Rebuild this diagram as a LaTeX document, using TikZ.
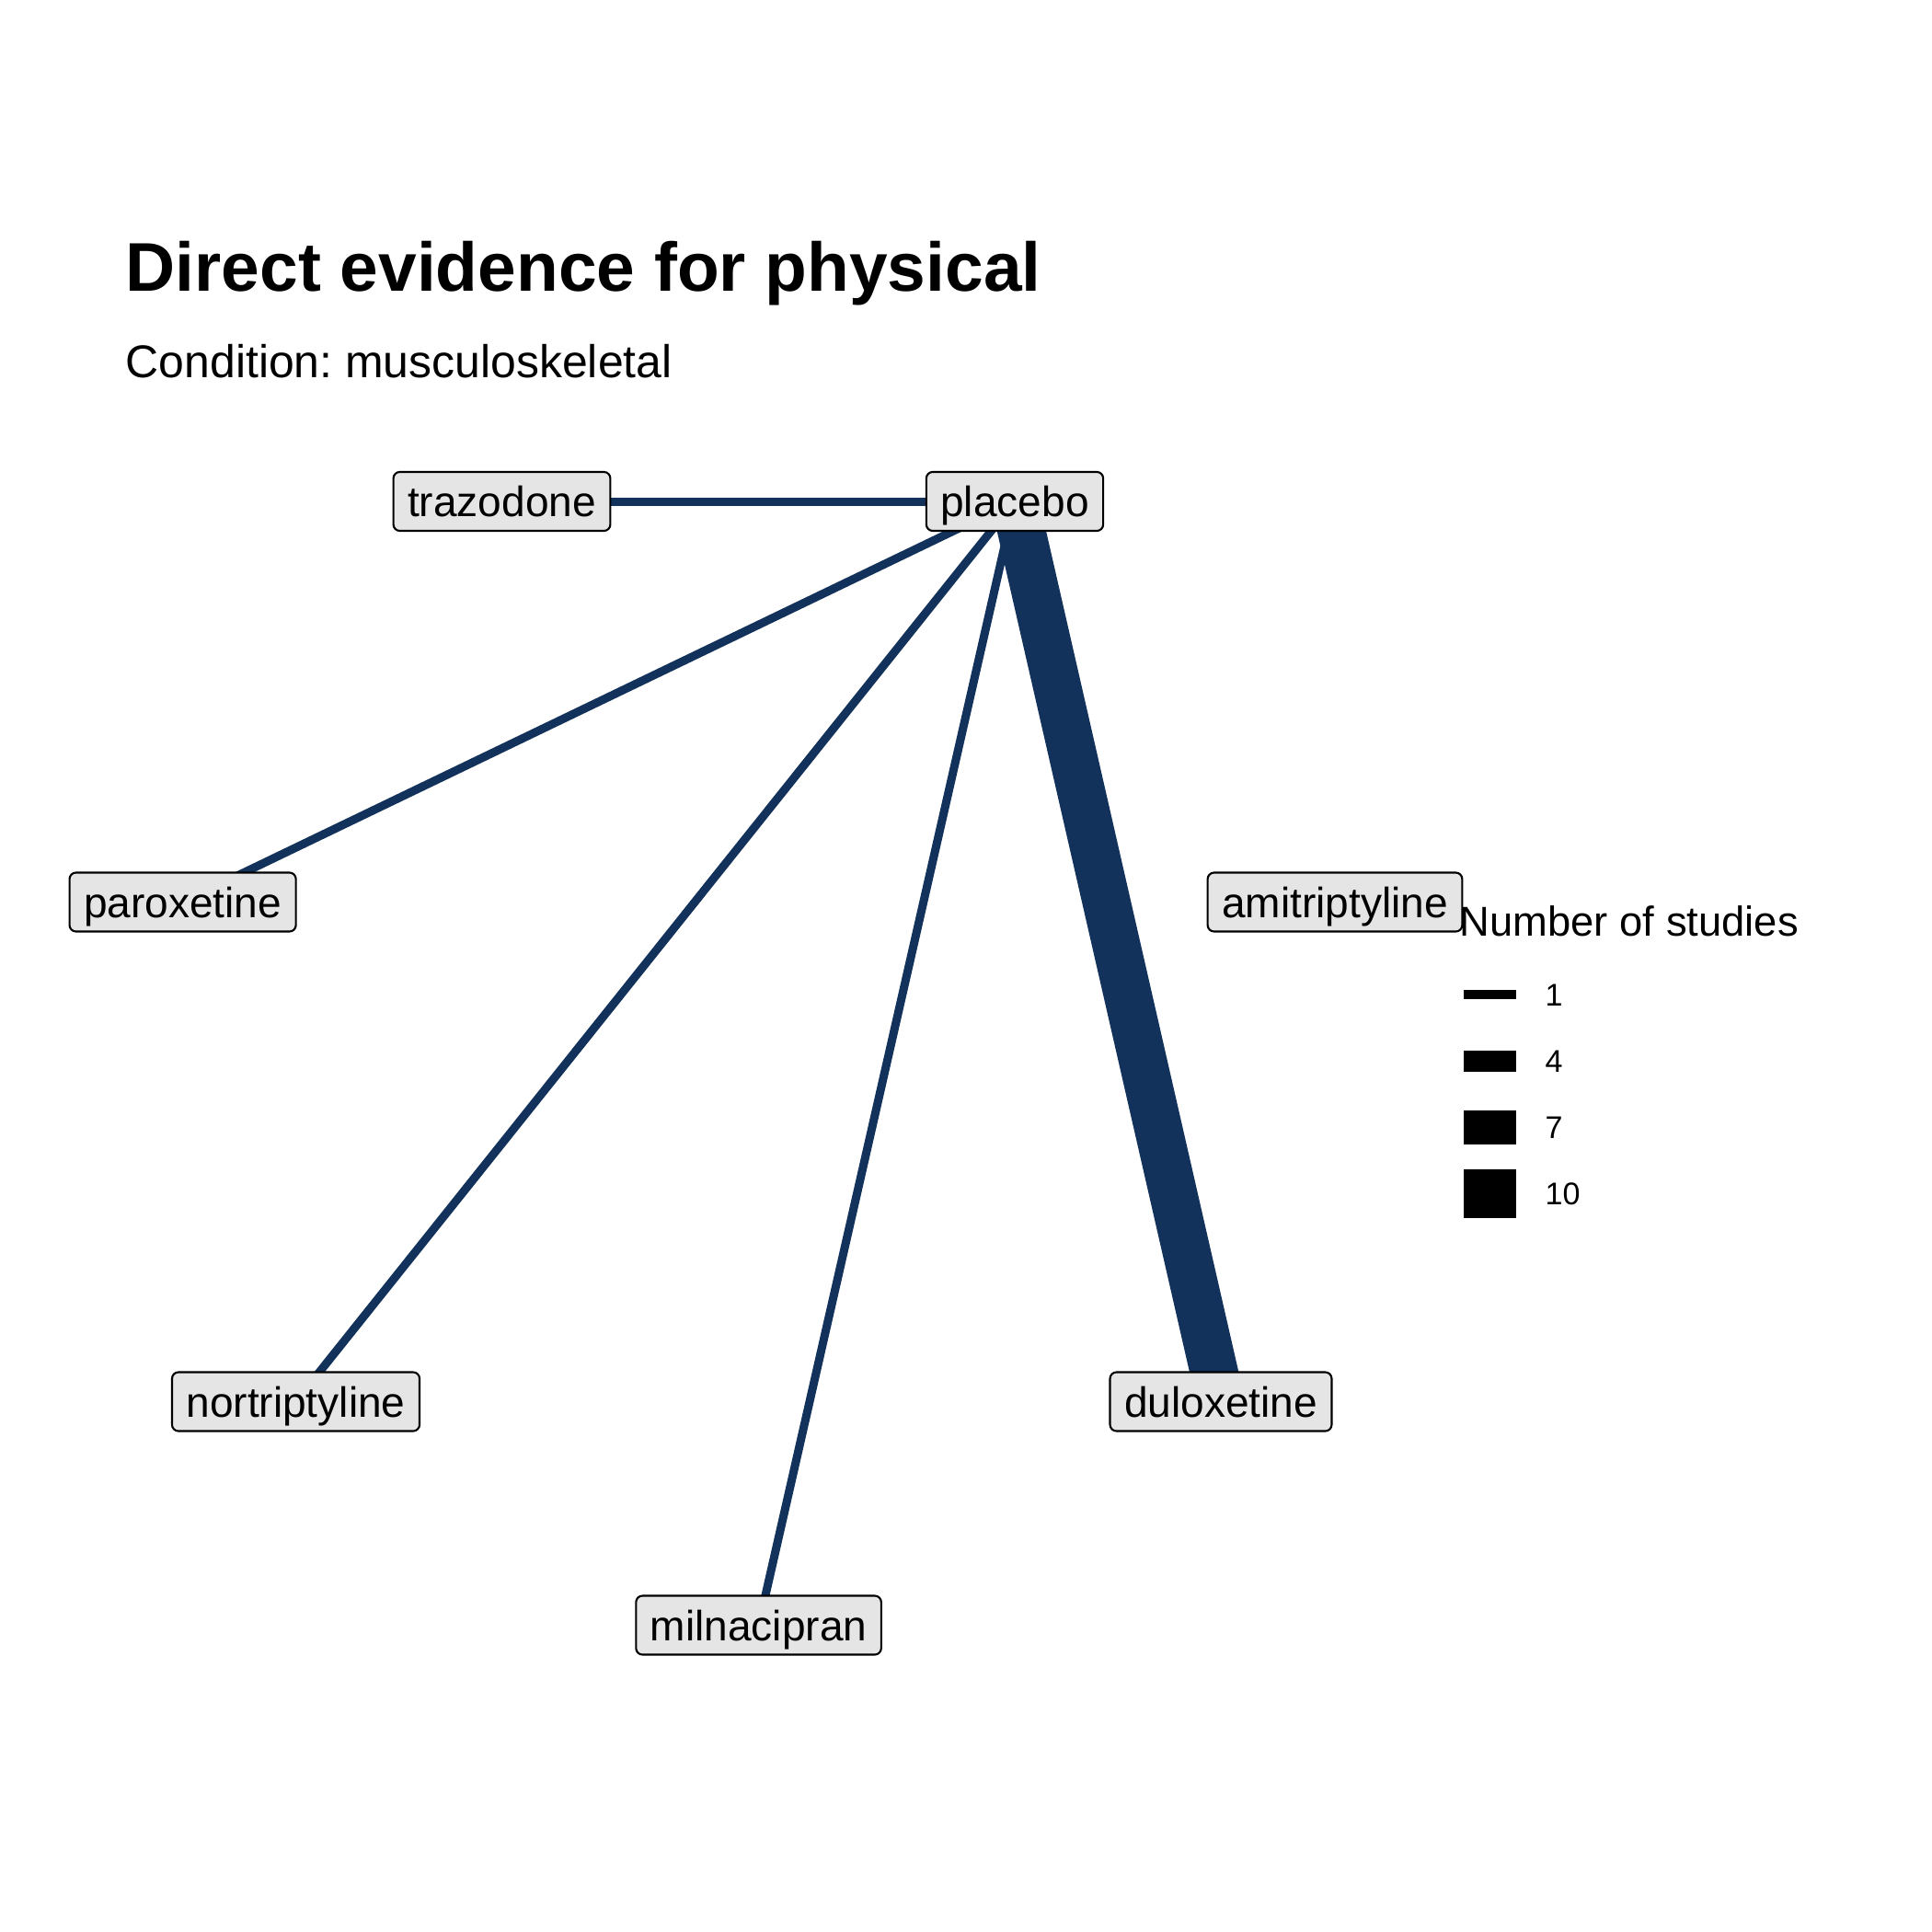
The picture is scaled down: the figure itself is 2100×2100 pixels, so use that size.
\documentclass[tikz,border=0pt]{standalone}
\usepackage{fontspec}
\setmainfont{Liberation Sans}
\usetikzlibrary{backgrounds}
\definecolor{edgeblue}{RGB}{19,50,91}
\definecolor{labelgrey}{RGB}{229,229,229}
\frenchspacing
\tikzset{
	drug/.style={draw=black, line width=0.6pt, fill=labelgrey, rounded corners=2pt,
		font=\fontsize{13.1}{15}\selectfont, inner xsep=4.4pt, inner ysep=0pt,
		minimum height=0.64cm, text height=0.95em, text depth=0pt},
	onestudy/.style={draw=edgeblue, line width=0.09cm},
	tenstudies/.style={draw=edgeblue, line width=0.52cm},
	legkey/.style={fill=black}
}
\begin{document}
\begin{tikzpicture}[x=0.01cm,y=-0.01cm]
		\useasboundingbox (0,0) rectangle (2100,2100);

		\node[anchor=base west,inner sep=0pt,font=\fontsize{21.3}{25}\selectfont\bfseries] (title) at (136,316) {Direct evidence for physical};
		\node[anchor=base west,inner sep=0pt,font=\fontsize{14.2}{17}\selectfont] (subtitle) at (136,410) {Condition: musculoskeletal};

		\node[drug] (trz) at (545.5,545) {trazodone};
		\node[drug] (plc) at (1103,545) {placebo};
		\node[drug] (par) at (198.6,980.5) {paroxetine};
		\node[drug] (ami) at (1451,980.5) {amitriptyline};
		\node[drug] (nor) at (321.5,1523.5) {nortriptyline};
		\node[drug] (dul) at (1327,1523.5) {duloxetine};
		\node[drug] (mil) at (824.6,1766.5) {milnacipran};

		\begin{scope}[on background layer]
			\draw[onestudy] (trz.center) -- (plc.center);
			\draw[onestudy] (par.center) -- (plc.center);
			\draw[onestudy] (nor.center) -- (plc.center);
			\draw[onestudy] (mil.center) -- (plc.center);
			\draw[tenstudies] (dul.center) -- (plc.center);
		\end{scope}

		\node[anchor=base west,inner sep=0pt,font=\fontsize{12.9}{15}\selectfont] (legtitle) at (1586,1017) {Number of studies};
		\foreach \n/\yc/\h in {1/1081/10, 4/1153.5/23, 7/1225.5/37, 10/1297.5/53} {
			\fill[legkey] (1591,\yc-\h/2) rectangle (1648,\yc+\h/2);
			\node[anchor=base west,inner sep=0pt,font=\fontsize{9.7}{12}\selectfont] (leg\n) at (1679,\yc+12) {\n};
		}
	\end{tikzpicture}
\end{document}
